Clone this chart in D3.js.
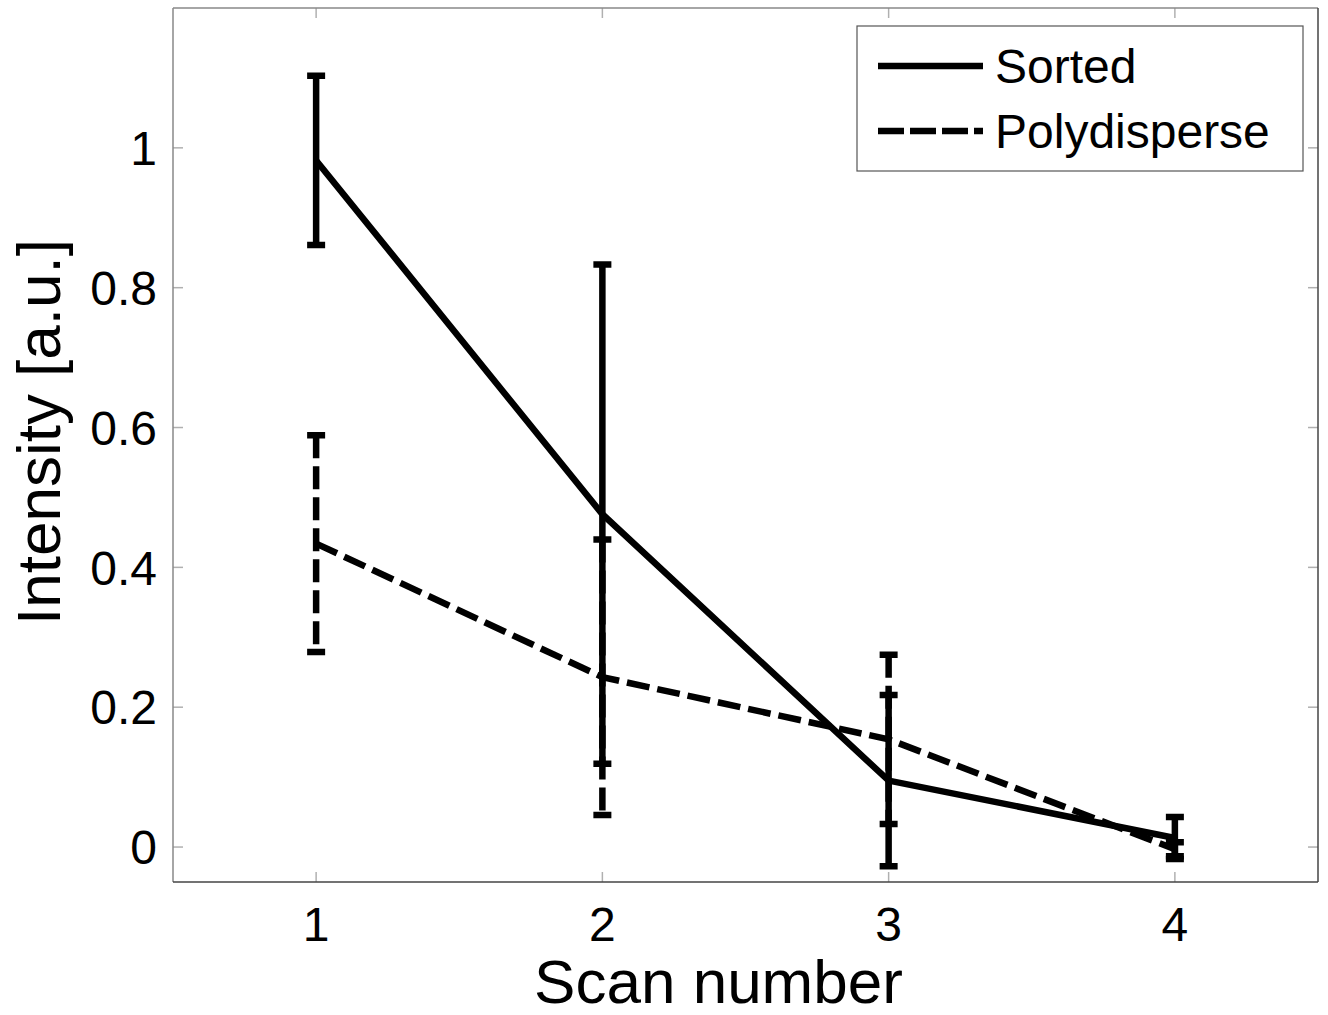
<!DOCTYPE html>
<html><head><meta charset="utf-8">
<script src="https://cdn.jsdelivr.net/npm/d3@7"></script>
<style>body{margin:0;background:#fff;} svg{display:block;}</style>
</head><body>
<svg id="c" width="1328" height="1015" font-family="Arial, 'Liberation Sans', Arimo, Helvetica, sans-serif"></svg>
<script>
const scans = [1, 2, 3, 4];
const sortedMean = [0.982, 0.476, 0.095, 0.013];
const sortedErr  = [0.121, 0.357, 0.1225, 0.030];
const polyMean   = [0.434, 0.243, 0.154, -0.003];
const polyErr    = [0.155, 0.197, 0.121, 0.010];
const xTicks = [1, 2, 3, 4];
const yTicks = [0, 0.2, 0.4, 0.6, 0.8, 1];
const seriesNames = ["Sorted", "Polydisperse"];

const svg = d3.select("#c");
const L = 173, R = 1318, T = 8, B = 882;
const x = d3.scaleLinear().domain([0.5, 4.5]).range([L, R]);
const y = d3.scaleLinear().domain([-0.05, 1.2]).range([B, T]);

const tickLen = 10, tickColor = "#b0b0b0";
const g = svg.append("g");
yTicks.forEach(v => {
  g.append("line").attr("x1", L).attr("x2", L + tickLen).attr("y1", y(v)).attr("y2", y(v)).attr("stroke", tickColor).attr("stroke-width", 1.5);
  g.append("line").attr("x1", R - tickLen).attr("x2", R).attr("y1", y(v)).attr("y2", y(v)).attr("stroke", tickColor).attr("stroke-width", 1.5);
  g.append("text").attr("x", L - 16).attr("y", y(v)).attr("dy", "0.36em").attr("text-anchor", "end").attr("font-size", 48).text(d3.format("~g")(v));
});
xTicks.forEach(v => {
  g.append("line").attr("x1", x(v)).attr("x2", x(v)).attr("y1", B).attr("y2", B - tickLen).attr("stroke", tickColor).attr("stroke-width", 1.5);
  g.append("line").attr("x1", x(v)).attr("x2", x(v)).attr("y1", T).attr("y2", T + tickLen).attr("stroke", tickColor).attr("stroke-width", 1.5);
  g.append("text").attr("x", x(v)).attr("y", 941).attr("text-anchor", "middle").attr("font-size", 48).text(v);
});

g.append("line").attr("x1", L).attr("x2", R).attr("y1", T).attr("y2", T).attr("stroke", "#888").attr("stroke-width", 1.5);
g.append("line").attr("x1", L).attr("x2", L).attr("y1", T).attr("y2", B).attr("stroke", "#888").attr("stroke-width", 1.5);
g.append("line").attr("x1", L).attr("x2", R).attr("y1", B).attr("y2", B).attr("stroke", "#444").attr("stroke-width", 1.5);
g.append("line").attr("x1", R).attr("x2", R).attr("y1", T).attr("y2", B).attr("stroke", "#444").attr("stroke-width", 1.5);

svg.append("text").attr("x", (L + R) / 2 - 27).attr("y", 1003).attr("text-anchor", "middle").attr("font-size", 62).text("Scan number");
svg.append("text").attr("transform", `translate(60,${432}) rotate(-90)`).attr("text-anchor", "middle").attr("font-size", 62).text("Intensity [a.u.]");

const lw = 6.5, dash = "23,8", capHW = 9;
function drawSeries(means, errs, dashed) {
  const gs = svg.append("g").attr("fill", "none").attr("stroke", "#000").attr("stroke-width", lw).attr("stroke-linejoin", "miter");
  const line = d3.line().x((d, i) => x(scans[i])).y(d => y(d));
  gs.append("path").attr("d", line(means)).attr("stroke-dasharray", dashed ? dash : null);
  means.forEach((m, i) => {
    const xc = x(scans[i]);
    const top = y(m + errs[i]), bot = y(m - errs[i]);
    const p = d3.path();
    p.moveTo(xc - capHW, top); p.lineTo(xc + capHW, top);
    p.moveTo(xc, top); p.lineTo(xc, bot);
    p.moveTo(xc - capHW, bot); p.lineTo(xc + capHW, bot);
    gs.append("path").attr("d", p.toString()).attr("stroke-dasharray", dashed ? dash : null);
  });
}
drawSeries(sortedMean, sortedErr, false);
drawSeries(polyMean, polyErr, true);

const lg = svg.append("g");
lg.append("rect").attr("x", 857).attr("y", 26).attr("width", 446).attr("height", 145).attr("fill", "#fff").attr("stroke", "#555").attr("stroke-width", 1.2);
const rowsY = [66, 131];
seriesNames.forEach((name, i) => {
  lg.append("line").attr("x1", 878).attr("x2", 983).attr("y1", rowsY[i]).attr("y2", rowsY[i]).attr("stroke", "#000").attr("stroke-width", lw).attr("stroke-dasharray", i === 1 ? "26,6" : null);
  lg.append("text").attr("x", 995).attr("y", rowsY[i]).attr("dy", "0.36em").attr("font-size", 48).text(name);
});
</script>
</body></html>
